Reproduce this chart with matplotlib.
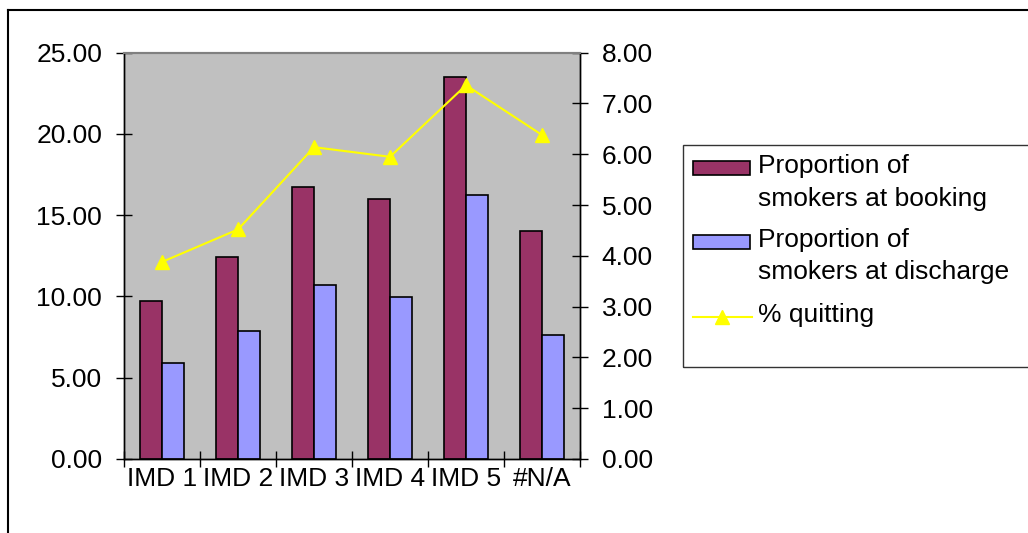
import matplotlib
matplotlib.use('Agg')
import matplotlib.pyplot as plt
from matplotlib.patches import Rectangle
from matplotlib.lines import Line2D
import numpy as np

categories = ['IMD 1', 'IMD 2', 'IMD 3', 'IMD 4', 'IMD 5', '#N/A']
booking = [9.72, 12.42, 16.73, 15.99, 23.49, 14.02]
discharge = [5.90, 7.87, 10.70, 9.96, 16.24, 7.63]
quitting = [3.88, 4.52, 6.14, 5.95, 7.36, 6.38]
left_ticks = [0, 5, 10, 15, 20, 25]
right_ticks = [0, 1, 2, 3, 4, 5, 6, 7, 8]
legend_labels = [('Proportion of', 'smokers at booking'),
                 ('Proportion of', 'smokers at discharge'),
                 ('% quitting',)]

plt.rcParams['font.family'] = ['Liberation Sans', 'DejaVu Sans']
FS = 19
C_BOOK = '#993366'
C_DIS = '#9999FF'
C_LINE = '#FFFF00'

W, H = 1028, 533
fig = plt.figure(figsize=(W / 100, H / 100), dpi=100)
fig.patch.set_facecolor('white')


def fx(px):
    return px / W


def fy(py):
    return 1 - py / H


ax = fig.add_axes([fx(124), fy(459), fx(580) - fx(124), fy(52.7) - fy(459)])
ax.set_facecolor('#C0C0C0')
x = np.arange(len(categories))
w = 0.29
ax.bar(x - w / 2, booking, w, color=C_BOOK, edgecolor='black', linewidth=1.2, zorder=2)
ax.bar(x + w / 2, discharge, w, color=C_DIS, edgecolor='black', linewidth=1.2, zorder=2)
ax.set_xlim(-0.5, 5.5)
ax.set_ylim(0, 25)
ax.set_yticks(left_ticks)
ax.set_yticklabels([f'{v:.2f}' for v in left_ticks])
ax.tick_params(axis='y', direction='inout', length=11.5, width=1, pad=10, labelsize=FS)
ax.set_xticks(x)
ax.set_xticklabels(categories)
ax.tick_params(axis='x', which='major', length=0, pad=6, labelsize=FS)
ax.set_xticks(np.arange(-0.5, len(categories), 1), minor=True)
ax.tick_params(axis='x', which='minor', direction='inout', length=11.5, width=1)

ax2 = ax.twinx()
ax2.plot(x, quitting, color=C_LINE, lw=1.5, marker='^', ms=10, zorder=3)
ax2.set_ylim(0, 8)
ax2.set_yticks(right_ticks)
ax2.set_yticklabels([f'{v:.2f}' for v in right_ticks])
ax2.tick_params(axis='y', direction='inout', length=11.5, width=1, pad=10, labelsize=FS)

for a in (ax, ax2):
    for s in ('left', 'right', 'bottom'):
        a.spines[s].set_color('black')
        a.spines[s].set_linewidth(1.0)
    a.spines['top'].set_color('#808080')
    a.spines['top'].set_linewidth(1.5)

# outer chart frame
fig.add_artist(Line2D([fx(8), fx(8)], [0, fy(10)], color='black', lw=1.5, transform=fig.transFigure))
fig.add_artist(Line2D([fx(8), 1.0], [fy(10), fy(10)], color='black', lw=1.5, transform=fig.transFigure))

# legend
fig.add_artist(Rectangle((fx(683), fy(367)), 1.0, fy(145) - fy(367), fill=False,
                         edgecolor='#333333', lw=1.0, transform=fig.transFigure))
patch_tops = [160.7, 235]
colors = [C_BOOK, C_DIS]
baselines = [(173.3, 205.7), (247.3, 279.3)]
for top, col, bl, lab in zip(patch_tops, colors, baselines, legend_labels[:2]):
    fig.add_artist(Rectangle((fx(693), fy(top + 14)), fx(750) - fx(693), 14 / H,
                             facecolor=col, edgecolor='black', lw=1.2, transform=fig.transFigure))
    for b, t in zip(bl, lab):
        fig.text(fx(758), fy(b), t, fontsize=FS, va='baseline', ha='left')
fig.add_artist(Line2D([fx(693), fx(752)], [fy(316.7), fy(316.7)], color=C_LINE, lw=1.5,
                      transform=fig.transFigure))
fig.add_artist(Line2D([fx(722)], [fy(316.7)], color=C_LINE, marker='^', ms=10, lw=0,
                      transform=fig.transFigure))
fig.text(fx(758), fy(321.7), legend_labels[2][0], fontsize=FS, va='baseline', ha='left')

fig.savefig('out.png', dpi=100)
